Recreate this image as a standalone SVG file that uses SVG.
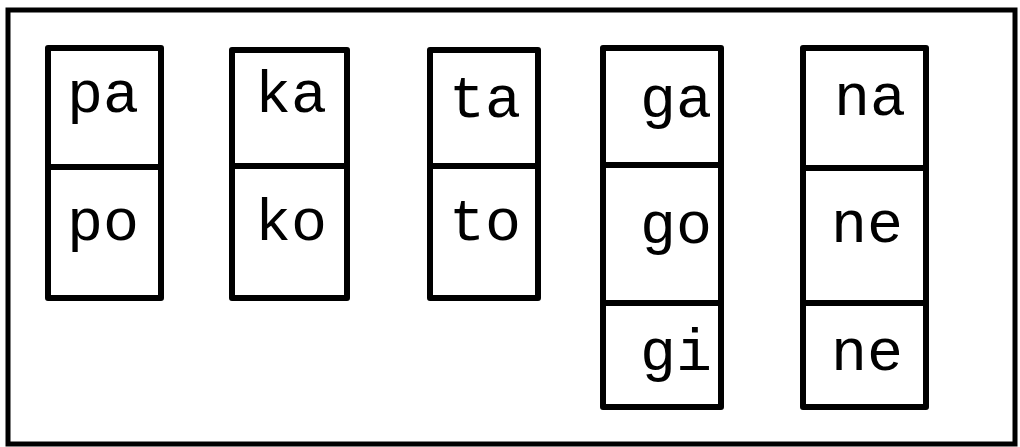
<svg xmlns="http://www.w3.org/2000/svg" width="1020" height="447" viewBox="0 0 1020 447">
<style>
.frame{fill:none;stroke:#000;stroke-width:5}
.box{fill:none;stroke:#000;stroke-width:6;stroke-linejoin:round}
.lbl{font-family:"Liberation Mono","Courier New",monospace;font-size:60px;fill:#000}
</style>
<rect width="1020" height="447" fill="#fff"/>
<rect class="frame" x="8" y="10" width="1007" height="434"/>
<g id="col-p">
<g id="pa"><rect class="box" x="48" y="48" width="113" height="119"/><text class="lbl" x="67" y="112">pa</text></g>
<g id="po"><rect class="box" x="48" y="167" width="113" height="131"/><text class="lbl" x="67" y="240">po</text></g>
</g>
<g id="col-k">
<g id="ka"><rect class="box" x="232" y="50" width="115" height="116"/><text class="lbl" x="255" y="112">ka</text></g>
<g id="ko"><rect class="box" x="232" y="166" width="115" height="132"/><text class="lbl" x="255" y="240">ko</text></g>
</g>
<g id="col-t">
<g id="ta"><rect class="box" x="430" y="50" width="108" height="116"/><text class="lbl" x="449" y="117">ta</text></g>
<g id="to"><rect class="box" x="430" y="166" width="108" height="132"/><text class="lbl" x="449" y="240">to</text></g>
</g>
<g id="col-g">
<g id="ga"><rect class="box" x="603" y="48" width="118" height="117"/><text class="lbl" x="640" y="117">ga</text></g>
<g id="go"><rect class="box" x="603" y="165" width="118" height="138"/><text class="lbl" x="640" y="243">go</text></g>
<g id="gi"><rect class="box" x="603" y="303" width="118" height="104"/><text class="lbl" x="640" y="370">gi</text></g>
</g>
<g id="col-n">
<g id="na"><rect class="box" x="803" y="48" width="123" height="120"/><text class="lbl" x="834" y="115">na</text></g>
<g id="ne1"><rect class="box" x="803" y="168" width="123" height="135"/><text class="lbl" x="831" y="242">ne</text></g>
<g id="ne2"><rect class="box" x="803" y="303" width="123" height="104"/><text class="lbl" x="831" y="370">ne</text></g>
</g>
<g id="connectors"></g>
</svg>
